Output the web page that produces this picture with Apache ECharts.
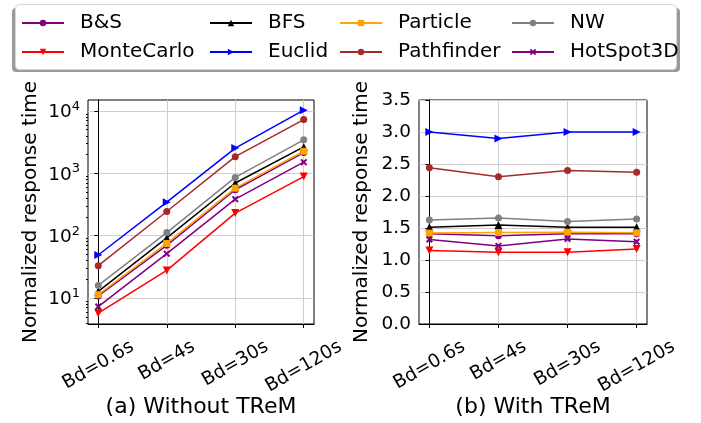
<!DOCTYPE html>
<html>
<head>
<meta charset="utf-8">
<script src="https://cdn.jsdelivr.net/npm/echarts@6/dist/echarts.min.js"></script>
<style>html,body{margin:0;padding:0;background:#fff;}#c{width:701px;height:423px;}</style>
</head>
<body>
<div id="c"></div>
<script>
// ---- data ----
const categories = ['Bd=0.6s', 'Bd=4s', 'Bd=30s', 'Bd=120s'];
const seriesNames = ['B&S', 'MonteCarlo', 'BFS', 'Euclid', 'Particle', 'Pathfinder', 'NW', 'HotSpot3D'];

// (a) Without TReM (log scale)
const BS_without = [10.8, 70, 545, 2150];
const MonteCarlo_without = [5.7, 27.7, 230, 887];
const BFS_without = [12.8, 92, 700, 2650];
const Euclid_without = [49, 345, 2540, 10300];
const Particle_without = [11.3, 75, 578, 2260];
const Pathfinder_without = [33, 244, 1850, 7280];
const NW_without = [15.9, 112, 860, 3440];
const HotSpot3D_without = [7.3, 51.5, 385, 1510];

// (b) With TReM
const BS_with = [1.41, 1.38, 1.41, 1.41];
const MonteCarlo_with = [1.15, 1.12, 1.12, 1.17];
const BFS_with = [1.51, 1.545, 1.51, 1.51];
const Euclid_with = [3.0, 2.9, 3.0, 3.0];
const Particle_with = [1.42, 1.43, 1.435, 1.425];
const Pathfinder_with = [2.44, 2.30, 2.40, 2.37];
const NW_with = [1.625, 1.655, 1.60, 1.64];
const HotSpot3D_with = [1.32, 1.22, 1.33, 1.285];

// tick labels / tick values
const logMajorTicks = [10, 100, 1000, 10000];
const logMinorTicks = [4, 5, 6, 7, 8, 9, 20, 30, 40, 50, 60, 70, 80, 90,
  200, 300, 400, 500, 600, 700, 800, 900, 2000, 3000, 4000, 5000, 6000, 7000, 8000, 9000];
const xTickValues = [0, 1, 2, 3];
const subTitles = ['(a) Without TReM', '(b) With TReM'];
const yTitle = 'Normalized response time';

// ---- styles ----
const FONT = 'DejaVu Sans';
const TICK_FS = 18.5;
const XSHAPE = 'path://M0,2 L2,0 L5,3 L8,0 L10,2 L7,5 L10,8 L8,10 L5,7 L2,10 L0,8 L3,5 Z';
const styles = {
  'B&S': {color: '#800080', symbol: 'circle', size: 7, rot: 0},
  'MonteCarlo': {color: '#ff0000', symbol: 'triangle', size: 8, rot: 180},
  'BFS': {color: '#000000', symbol: 'triangle', size: 8, rot: 0},
  'Euclid': {color: '#0000ff', symbol: 'triangle', size: 8, rot: -90},
  'Particle': {color: '#ffa500', symbol: 'rect', size: 7, rot: 0},
  'Pathfinder': {color: '#a52a2a', symbol: 'circle', size: 7, rot: 0},
  'NW': {color: '#808080', symbol: 'circle', size: 7, rot: 0},
  'HotSpot3D': {color: '#800080', symbol: XSHAPE, size: 7, rot: 0}
};
const withoutData = [BS_without, MonteCarlo_without, BFS_without, Euclid_without, Particle_without, Pathfinder_without, NW_without, HotSpot3D_without];
const withData = [BS_with, MonteCarlo_with, BFS_with, Euclid_with, Particle_with, Pathfinder_with, NW_with, HotSpot3D_with];

function mkSeries(name, vals, idx) {
  const s = styles[name];
  return {
    type: 'line', name: name, xAxisIndex: idx, yAxisIndex: idx === 0 ? 0 : 2,
    data: vals.map((v, i) => [i, v]),
    symbol: s.symbol, symbolSize: s.size, symbolRotate: s.rot, showSymbol: true,
    lineStyle: {color: s.color, width: 1.5},
    itemStyle: {color: s.color},
    animation: false, silent: true
  };
}
const series = [];
seriesNames.forEach((n, i) => series.push(mkSeries(n, withoutData[i], 0)));
seriesNames.forEach((n, i) => series.push(mkSeries(n, withData[i], 1)));

function xAxis(gridIndex, name) {
  return {
    type: 'value', gridIndex: gridIndex, min: -0.15, max: 3.15, minInterval: 1, maxInterval: 1,
    name: name, nameLocation: 'middle', nameGap: 72,
    nameTextStyle: {fontFamily: FONT, fontSize: 22, color: '#000'},
    axisLine: {show: true, lineStyle: {color: '#000', width: 1}},
    axisTick: {show: true, length: 4, lineStyle: {color: '#000'}, customValues: xTickValues},
    axisLabel: {show: false},
    splitLine: {show: true, lineStyle: {color: '#cfcfcf', width: 1}}
  };
}

const legendFrame = [
  {type: 'rect', z: -10, shape: {x: 12, y: 8, width: 668, height: 64, r: 4}, style: {fill: '#9a9a9a'}},
  {type: 'rect', z: -9, shape: {x: 15.5, y: 4.5, width: 661, height: 65, r: 4}, style: {fill: '#fff', stroke: '#d6d6d6', lineWidth: 1}}
];

const option = {
  backgroundColor: '#fff',
  animation: false,
  grid: [
    {left: 88, top: 100, width: 226, height: 224, show: true, borderColor: '#000', borderWidth: 1, backgroundColor: 'transparent'},
    {left: 419, top: 100, width: 228, height: 224, show: true, borderColor: '#000', borderWidth: 1, backgroundColor: 'transparent'}
  ],
  xAxis: [xAxis(0, subTitles[0]), xAxis(1, subTitles[1])],
  yAxis: [
    {
      type: 'log', logBase: 10, gridIndex: 0, min: 3.83, max: 15000, position: 'left',
      name: yTitle, nameLocation: 'middle', nameGap: 47,
      nameTextStyle: {fontFamily: FONT, fontSize: 20, color: '#000'},
      axisLine: {show: true, lineStyle: {color: '#000'}},
      axisTick: {show: true, length: 4, lineStyle: {color: '#000'}, customValues: logMajorTicks},
      axisLabel: {
        customValues: logMajorTicks, margin: 8, color: '#000', fontFamily: FONT, fontSize: TICK_FS,
        formatter: v => '{b|10}{s|' + Math.round(Math.log10(v)) + '}',
        rich: {
          b: {fontFamily: FONT, fontSize: TICK_FS, color: '#000', verticalAlign: 'bottom'},
          s: {fontFamily: FONT, fontSize: 13, color: '#000', verticalAlign: 'bottom', padding: [0, 0, 9, 0]}
        }
      },
      splitLine: {show: true, lineStyle: {color: '#cfcfcf', width: 1}}
    },
    {
      type: 'log', logBase: 10, gridIndex: 0, min: 3.83, max: 15000, position: 'left',
      axisLine: {show: false},
      axisTick: {show: true, length: 2, lineStyle: {color: '#000'}, customValues: logMinorTicks},
      axisLabel: {show: false},
      splitLine: {show: false}
    },
    {
      type: 'value', gridIndex: 1, min: 0, max: 3.5, interval: 0.5, position: 'left',
      name: yTitle, nameLocation: 'middle', nameGap: 47,
      nameTextStyle: {fontFamily: FONT, fontSize: 20, color: '#000'},
      axisLine: {show: true, lineStyle: {color: '#000'}},
      axisTick: {show: true, length: 4, lineStyle: {color: '#000'}},
      axisLabel: {margin: 8, color: '#000', fontFamily: FONT, fontSize: TICK_FS, formatter: v => v.toFixed(1)},
      splitLine: {show: true, lineStyle: {color: '#cfcfcf', width: 1}}
    }
  ],
  legend: [
    [seriesNames[0], seriesNames[1], 21],
    [seriesNames[2], seriesNames[3], 209],
    [seriesNames[4], seriesNames[5], 339],
    [seriesNames[6], seriesNames[7], 511]
  ].map(c => ({
    data: [c[0], c[1]], orient: 'vertical', left: c[2], top: 13, padding: 0,
    itemWidth: 42, itemHeight: 8, itemGap: 9, selectedMode: false,
    textStyle: {fontFamily: FONT, fontSize: 20, color: '#000', lineHeight: 20, padding: [0, 0, 0, 11]}
  })),
  graphic: legendFrame,
  series: series
};
const chart = echarts.init(document.getElementById('c'), null, {renderer: 'canvas'});
chart.setOption(option);

// Rotated (30 deg) category labels, centred under each tick (matplotlib style),
// positioned from the library's own x scale.
const ctx = document.createElement('canvas').getContext('2d');
ctx.font = TICK_FS + 'px "' + FONT + '"';
const ang = 30 * Math.PI / 180;
const lineH = TICK_FS * 1.17;
const labelTop = 336;
const texts = [];
[0, 1].forEach(g => {
  categories.forEach((c, i) => {
    const px = chart.convertToPixel({xAxisIndex: g}, i);
    const w = ctx.measureText(c).width;
    const boxH = w * Math.sin(ang) + lineH * Math.cos(ang);
    texts.push({
      type: 'text', x: px, y: labelTop + boxH / 2, rotation: ang, silent: true,
      style: {text: c, fontFamily: FONT, fontSize: TICK_FS, fill: '#000', align: 'center', verticalAlign: 'middle'}
    });
  });
});
chart.setOption({graphic: legendFrame.concat(texts)});
</script>
</body>
</html>
